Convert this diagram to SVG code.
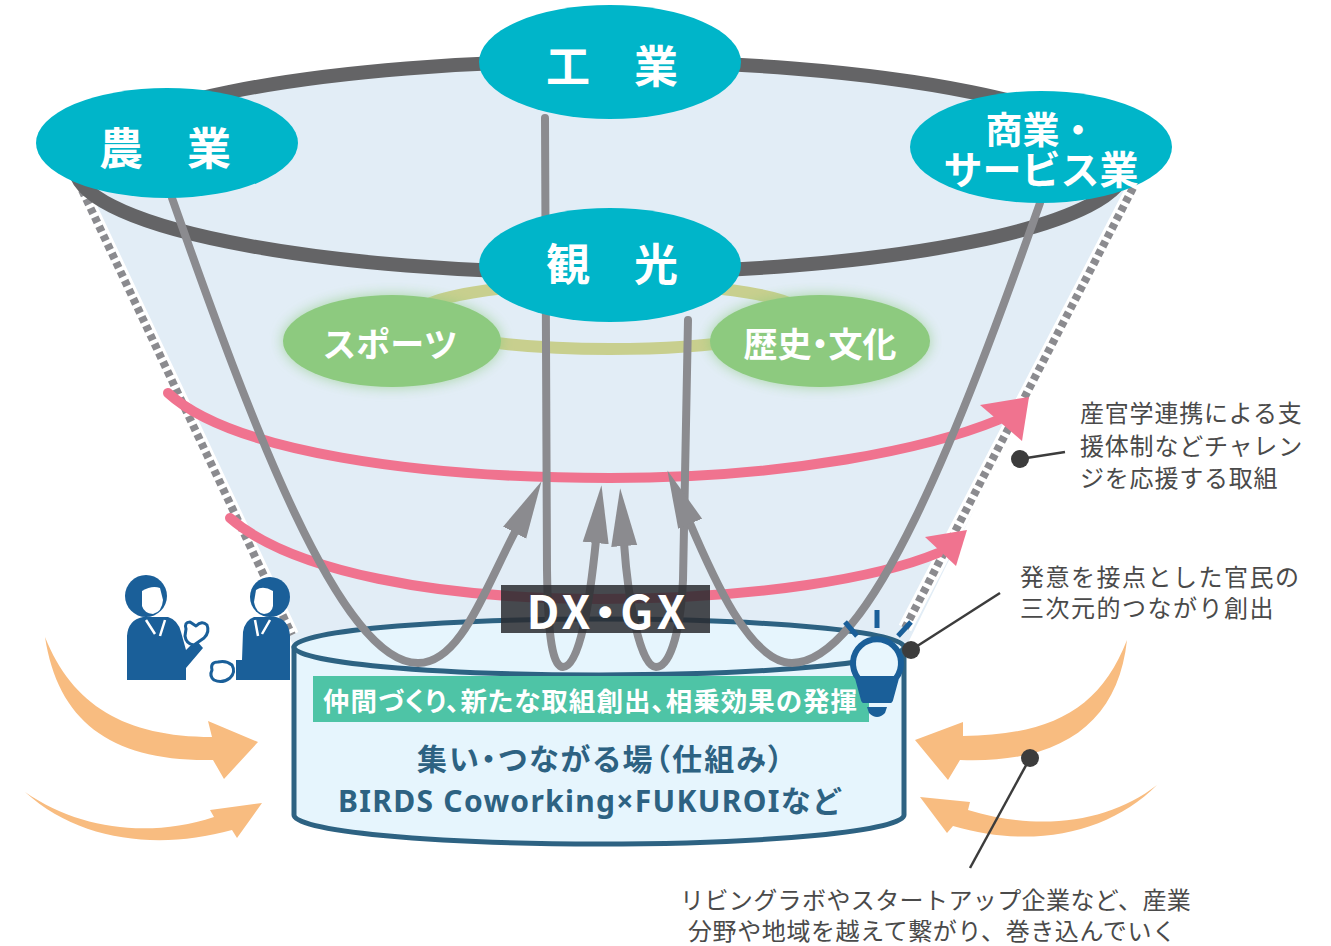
<svg xmlns="http://www.w3.org/2000/svg" width="1331" height="946" viewBox="0 0 1331 946">
  <style>
    .cjk { font-family: "Noto Sans CJK JP", "Noto Sans", sans-serif; }
    .palt { font-feature-settings: "palt"; }
    .node { fill: #00b5c9; }
    .node-label { fill: #ffffff; font-weight: 700; text-anchor: middle; dominant-baseline: central; }
    .sub { fill: #8dca7f; }
    .flow { fill: none; stroke: #8b8b8f; stroke-width: 8; stroke-linecap: round; marker-end: url(#ah); }
    .pink { fill: none; stroke: #f0738f; stroke-width: 10; stroke-linecap: round; }
    .pinkhead { fill: #f0738f; }
    .orange { fill: #f8bc80; }
    .note { fill: #4a4a4a; font-size: 24px; font-weight: 400; }
    .leader { stroke: #3c3c3c; stroke-width: 2.5; fill: none; }
    .dot { fill: #3c3c3c; }
    .blue { fill: #1a5f99; }
    .side-bg { stroke: #ffffff; stroke-width: 14; fill: none; }
    .side { stroke: #8b8b8f; stroke-width: 8; stroke-dasharray: 6 4; fill: none; }
  </style>
  <defs>
    <marker id="ah" markerUnits="userSpaceOnUse" markerWidth="58" markerHeight="30" viewBox="0 0 58 30" refX="3" refY="15" orient="auto">
      <path d="M0,2 L58,15 L0,28 Z" fill="#8b8b8f"/>
    </marker>
    <filter id="glow" x="-25%" y="-40%" width="150%" height="180%">
      <feGaussianBlur in="SourceGraphic" stdDeviation="7" result="b"/>
      <feComponentTransfer in="b" result="bf"><feFuncA type="linear" slope="0.7"/></feComponentTransfer>
      <feMerge><feMergeNode in="bf"/><feMergeNode in="SourceGraphic"/></feMerge>
    </filter>
  </defs>

  <!-- funnel body -->
  <g id="funnel">
    <ellipse cx="600" cy="167" rx="525" ry="106" fill="#e2edf6"/>
    <polygon points="75,167 82,190 293,645 907,645 1133,188 1125,167" fill="#e2edf6"/>
    <line class="side-bg" x1="82" y1="190" x2="292" y2="635"/>
    <line class="side" x1="82" y1="190" x2="292" y2="635"/>
    <line class="side-bg" x1="1133" y1="188" x2="905" y2="628"/>
    <line class="side" x1="1133" y1="188" x2="905" y2="628"/>
    <ellipse cx="600" cy="167" rx="525" ry="106" fill="none" stroke="#646466" stroke-width="14"/>
    <ellipse cx="610" cy="316" rx="195" ry="33" fill="none" stroke="#c8cf8e" stroke-width="12"/>
  </g>

  <!-- base cylinder -->
  <g id="base">
    <path d="M294,647 L294,815 A305,29 0 0 0 904,815 L904,647 Z" fill="#e6f5fd" stroke="#2d6282" stroke-width="5" stroke-linejoin="round"/>
    <ellipse cx="599" cy="647" rx="305" ry="28" fill="#e6f5fd" stroke="#2d6282" stroke-width="5"/>
  </g>

  <!-- connectors -->
  <g id="connectors">
    <path class="pink" d="M168,393 C 232,452 420,478 610,478 C 790,478 930,448 998,420"/>
    <polygon class="pinkhead" points="1029,397 980,405 1022,441"/>
    <path class="pink" d="M230,518 C 292,572 440,599 600,599 C 760,599 880,577 938,553"/>
    <polygon class="pinkhead" points="967,530 925,537 956,566"/>

    <path class="flow" d="M172,198 C 250,420 340,663 418,663 C 460,663 483,593 516,530"/>
    <path class="flow" d="M545,118 L547,570 C 548,640 553,667 563,667 C 580,667 590,600 596,540"/>
    <path class="flow" d="M688,320 L683,580 C 680,640 668,667 656,667 C 640,667 628,600 624,543"/>
    <path class="flow" d="M1040,203 C 960,430 870,663 792,663 C 750,663 712,575 689,521"/>

    <path class="orange" d="M45,637 C 72,705 125,737 212,737 L208,721 L258,742 L224,779 L213,760 C 112,762 58,722 45,637 Z"/>
    <path class="orange" d="M25,792 C 80,830 150,838 214,817 L210,810 L262,803 L237,838 L232,830 C 160,850 80,842 25,792 Z"/>
    <path class="orange" d="M1127,640 C 1100,710 1050,735 963,736 L963,722 L915,740 L948,780 L960,760 C 1060,764 1118,724 1127,640 Z"/>
    <path class="orange" d="M1157,785 C 1110,822 1040,832 968,810 L970,802 L920,797 L947,833 L953,826 C 1035,850 1110,832 1157,785 Z"/>
  </g>

  <!-- sector nodes -->
  <g id="node-sports">
    <ellipse class="sub" cx="392" cy="341" rx="109" ry="46" filter="url(#glow)"/>
    <text class="cjk node-label" x="390" y="342" font-size="34">スポーツ</text>
  </g>
  <g id="node-history">
    <ellipse class="sub" cx="820" cy="341" rx="110" ry="46" filter="url(#glow)"/>
    <text class="cjk palt node-label" x="820" y="342" font-size="34">歴史・文化</text>
  </g>
  <g id="node-agri">
    <ellipse class="node" cx="167" cy="143" rx="131" ry="55"/>
    <text class="cjk node-label" x="165" y="146" font-size="44">農　業</text>
  </g>
  <g id="node-industry">
    <ellipse class="node" cx="610" cy="62" rx="131" ry="57"/>
    <text class="cjk node-label" x="612" y="64" font-size="44">工　業</text>
  </g>
  <g id="node-commerce">
    <ellipse class="node" cx="1041" cy="147" rx="131" ry="56"/>
    <text class="cjk node-label" x="1041" y="128" font-size="37">商業・</text>
    <text class="cjk node-label" x="1041" y="167" font-size="39">サービス業</text>
  </g>
  <g id="node-tourism">
    <ellipse class="node" cx="610" cy="265" rx="131" ry="57"/>
    <text class="cjk node-label" x="612" y="262" font-size="44">観　光</text>
  </g>

  <!-- base labels -->
  <g id="node-base-labels">
    <rect x="313" y="676" width="556" height="46" fill="#4ec4a6"/>
    <text class="cjk palt" x="590" y="699" font-size="26.5" font-weight="700" fill="#ffffff" text-anchor="middle" dominant-baseline="central" textLength="534" lengthAdjust="spacing">仲間づくり、新たな取組創出、相乗効果の発揮</text>
    <text class="cjk palt" x="600" y="757" font-size="30" font-weight="700" fill="#2d6282" text-anchor="middle" dominant-baseline="central" textLength="366" lengthAdjust="spacing">集い・つながる場（仕組み）</text>
    <text x="590" y="800" font-family="'Noto Sans', 'Noto Sans CJK JP', sans-serif" font-size="30" font-weight="700" fill="#2d6282" text-anchor="middle" dominant-baseline="central" textLength="504" lengthAdjust="spacing">BIRDS Coworking×FUKUROIなど</text>
  </g>

  <g id="node-dxgx">
    <rect x="501" y="585" width="209" height="48" fill="#2a2c30" fill-opacity="0.85"/>
    <text class="cjk palt" x="606" y="609" font-size="46" font-weight="700" fill="#ffffff" text-anchor="middle" dominant-baseline="central" textLength="159" lengthAdjust="spacing">DX・GX</text>
  </g>

  <!-- two people meeting -->
  <g id="people">
    <circle class="blue" cx="146" cy="596" r="21"/>
    <path d="M142,591 Q152,585 160,588 L163,600 Q162,612 153,614 Q144,613 142,606 Z" fill="#ffffff"/>
    <path class="blue" d="M127,680 L127,636 Q128,620 143,617 L168,617 Q178,620 181,632 L186,650 L196,640 L203,648 L186,668 L186,680 Z"/>
    <path d="M146,620 L155,634 M165,620 L160,636" stroke="#ffffff" stroke-width="2.5" fill="none"/>
    <path d="M186,629 Q184,622 190,622 L196,626 Q202,620 207,625 Q210,632 204,638 L194,645 Q186,644 185,636 Z" fill="#ffffff" stroke="#1a5f99" stroke-width="3" stroke-linejoin="round"/>

    <circle class="blue" cx="270" cy="597" r="20"/>
    <path d="M273,591 Q263,585 256,590 L254,602 Q256,613 264,614 Q272,613 273,606 Z" fill="#ffffff"/>
    <path class="blue" d="M290,680 L290,636 Q289,620 276,617 L254,617 Q245,620 243,632 L242,660 L236,660 L236,680 Z"/>
    <path d="M270,620 L262,634 M255,620 L258,636" stroke="#ffffff" stroke-width="2.5" fill="none"/>
    <path d="M232,665 Q236,672 230,678 Q222,684 214,680 Q209,676 212,670 Q210,662 218,662 Q226,660 232,665 Z" fill="#ffffff" stroke="#1a5f99" stroke-width="3" stroke-linejoin="round"/>
  </g>

  <!-- idea bulb -->
  <g id="bulb">
    <path d="M877,610 L877,628 M845,622 L857,636 M911,622 L898,636" stroke="#1a5f99" stroke-width="5" fill="none"/>
    <path d="M858,678 A24,24 0 1 1 896,678 L890,700 L864,700 Z" fill="#e8f6fd" stroke="#1a5f99" stroke-width="6" stroke-linejoin="round"/>
    <path class="blue" d="M857,676 L897,676 L891,703 L863,703 Z"/>
    <path class="blue" d="M867,707 L887,707 L885,713 Q877,721 869,713 Z"/>
  </g>

  <!-- callouts -->
  <g id="note-support">
    <line class="leader" x1="1020" y1="459" x2="1065" y2="452"/>
    <circle class="dot" cx="1020" cy="459" r="9"/>
    <text class="cjk note" x="1080" y="422" letter-spacing="0.8">産官学連携による支</text>
    <text class="cjk note" x="1080" y="455" letter-spacing="0.8">援体制などチャレン</text>
    <text class="cjk note" x="1080" y="487" letter-spacing="0.8">ジを応援する取組</text>
  </g>
  <g id="note-ideas">
    <line class="leader" x1="911" y1="650" x2="1000" y2="593"/>
    <circle class="dot" cx="911" cy="650" r="9"/>
    <text class="cjk note" x="1020" y="586" letter-spacing="1.5">発意を接点とした官民の</text>
    <text class="cjk note" x="1020" y="617" letter-spacing="1.5">三次元的つながり創出</text>
  </g>
  <g id="note-living-lab">
    <line class="leader" x1="1030" y1="758" x2="970" y2="868"/>
    <circle class="dot" cx="1030" cy="758" r="9"/>
    <text class="cjk note" x="680" y="909" letter-spacing="0.4">リビングラボやスタートアップ企業など、産業</text>
    <text class="cjk note" x="688" y="940" letter-spacing="0.6">分野や地域を越えて繋がり、巻き込んでいく</text>
  </g>
</svg>
